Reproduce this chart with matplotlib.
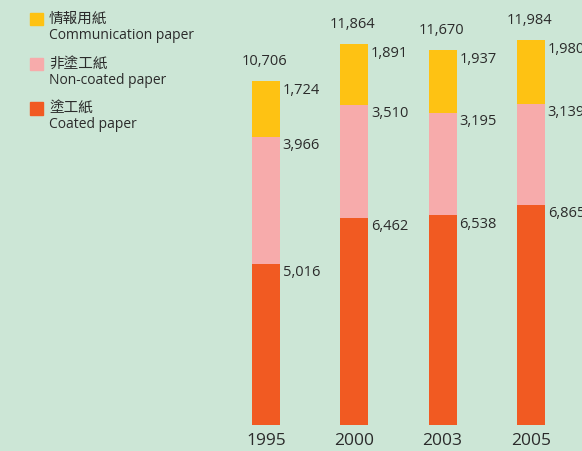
import matplotlib.pyplot as plt
from matplotlib.patches import Rectangle

# DATA
years = ['1995', '2000', '2003', '2005']
coated = [5016, 6462, 6538, 6865]
non_coated = [3966, 3510, 3195, 3139]
communication = [1724, 1891, 1937, 1980]
totals = [10706, 11864, 11670, 11984]

labels_zh = ['情報用紙', '非塗工紙', '塗工紙']
labels_en = ['Communication paper', 'Non-coated paper', 'Coated paper']

# COLOURS
BG = '#cce6d6'
C_COAT = '#f15a22'
C_NON = '#f7abab'
C_COMM = '#fec213'
TXT = '#2b2b2b'

W, H = 582, 451
fig = plt.figure(figsize=(W / 100, H / 100), dpi=100, facecolor=BG)
ax = fig.add_axes([0, 0, 1, 1])
ax.set_facecolor(BG)

# pixel mapping: bar 0 centre at x=266, spacing 88.3 px, baseline at y=425
sp = 88.3
ppu = 0.0321
ax.set_xlim(-266 / sp, (W - 266) / sp)
ax.set_ylim(-(H - 425) / ppu, 425 / ppu)
ax.axis('off')

x = list(range(len(years)))
bw = 28 / sp
ax.bar(x, coated, width=bw, color=C_COAT)
bottom2 = coated
ax.bar(x, non_coated, width=bw, bottom=bottom2, color=C_NON)
bottom3 = [a + b for a, b in zip(coated, non_coated)]
ax.bar(x, communication, width=bw, bottom=bottom3, color=C_COMM)

num_font = dict(family=['Open Sans', 'DejaVu Sans'], color=TXT, fontsize=10.5)

# SEGMENT LABELS
for i in x:
    tops = [coated[i], bottom3[i], bottom3[i] + communication[i]]
    vals = [coated[i], non_coated[i], communication[i]]
    for t, v in zip(tops, vals):
        ax.annotate(f'{v:,}', (i + bw / 2, t), xytext=(2, -1),
                    textcoords='offset points', ha='left', va='top', **num_font)
    ax.annotate(f'{totals[i]:,}', (i, bottom3[i] + communication[i]), xytext=(-1, 14),
                textcoords='offset points', ha='center', va='center', **num_font)
    ax.annotate(years[i], (i, 0), xytext=(0, -11.5), textcoords='offset points',
                ha='center', va='center', family=['Open Sans', 'DejaVu Sans'],
                color=TXT, fontsize=12.5)

# LEGEND
leg_cols = [C_COMM, C_NON, C_COAT]
leg_y = [12.5, 57.5, 102]
for c, y0, zh, en in zip(leg_cols, leg_y, labels_zh, labels_en):
    fig.patches.append(Rectangle((30 / W, 1 - (y0 + 12.5) / H), 12.5 / W, 12.5 / H,
                                 transform=fig.transFigure, color=c))
    fig.text(49 / W, 1 - (y0 + 6) / H, zh, family=['Noto Sans CJK TC', 'DejaVu Sans'],
             color=TXT, fontsize=10.5, va='center', ha='left')
    fig.text(49 / W, 1 - (y0 + 23) / H, en, family=['Open Sans', 'DejaVu Sans'],
             color=TXT, fontsize=10, va='center', ha='left')

fig.savefig('out.png', dpi=100, facecolor=BG)
